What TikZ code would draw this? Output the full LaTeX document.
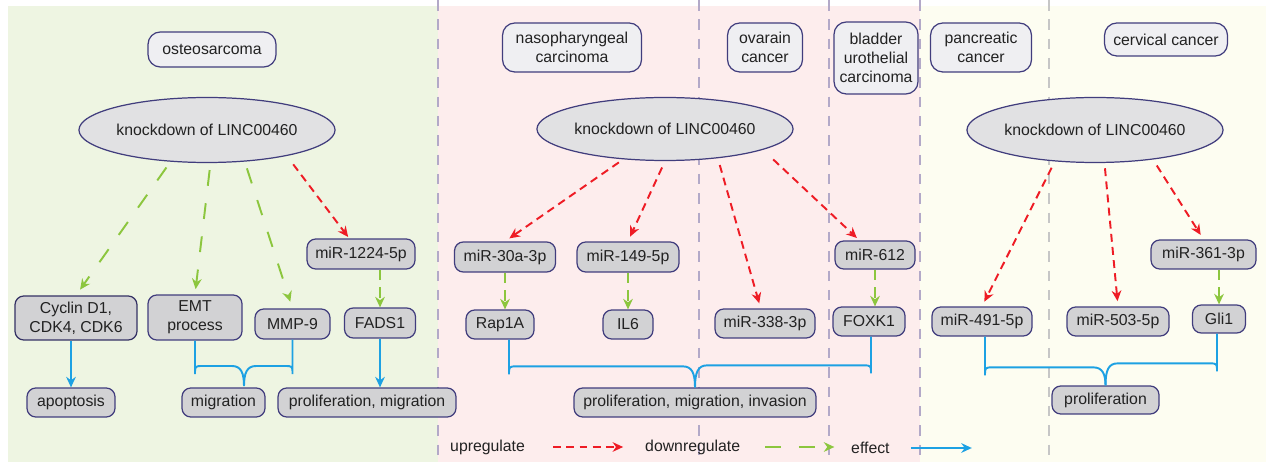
\documentclass[tikz,border=0pt]{standalone}
\usepackage{fontspec}
\setmainfont{Liberation Sans}
\usepackage{xcolor}
\usepackage{tikz}
\usetikzlibrary{shapes.geometric, arrows.meta, calc}

\definecolor{bggreen}{HTML}{EEF5E2}
\definecolor{bgpink}{HTML}{FDEDED}
\definecolor{bgyellow}{HTML}{FDFDF1}
\definecolor{navy}{HTML}{413D7D}
\definecolor{boxfill}{HTML}{EFEFF2}
\definecolor{genefill}{HTML}{D2D2D4}
\definecolor{ellfill}{HTML}{E1E1E3}
\definecolor{upred}{HTML}{EE1C25}
\definecolor{downgreen}{HTML}{8CC63E}
\definecolor{effblue}{HTML}{1DA1E3}
\definecolor{sepline}{HTML}{B3A9C8}
\definecolor{sepgray}{HTML}{C6C6C6}
\definecolor{txt}{HTML}{222222}

% one leg of a brace: #1 start, #2 tip, #3 rise of the bar, #4 side (1 left, -1 right)
\newcommand{\brleg}[4]{%
  \draw[effect] (#1) -- ($(#1 |- #2)+(0,-#3+8)$)
    .. controls ($(#1 |- #2)+(0,-#3)$) .. ($(#1 |- #2)+(8*#4,-#3)$)
    -- ($(#2)+(-12*#4,-#3)$)
    .. controls ($(#2)+(-3*#4,-#3)$) and ($(#2)+(0,-#3+7)$) .. (#2);}

\begin{document}
\begin{tikzpicture}[x=0.02cm, y=-0.02cm,
    every node/.style={font=\fontsize{9}{10.8}\selectfont, text=txt},
    disease/.style={draw=navy, line width=0.7pt, fill=boxfill, rounded corners=7pt, align=center, inner sep=0pt},
    knock/.style={ellipse, draw=navy, line width=0.7pt, fill=ellfill, inner sep=0pt},
    gene/.style={draw=navy, line width=0.7pt, fill=genefill, rounded corners=5pt, align=center, inner sep=0pt},
    upreg/.style={draw=upred, line width=1.1pt, dash pattern=on 4.5pt off 3pt, -{Stealth[length=6pt,width=5.5pt]}},
    downreg/.style={draw=downgreen, line width=1.1pt, dash pattern=on 9pt off 10pt, -{Stealth[length=6pt,width=5.5pt]}},
    shortdown/.style={downreg, dash pattern=on 6pt off 4pt},
    effect/.style={draw=effblue, line width=1.1pt},
    effarrow/.style={effect, -{Stealth[length=6pt,width=5.5pt]}},
    sep/.style={draw=sepline, line width=1.3pt, dash pattern=on 6pt off 5pt}]
    \useasboundingbox (0,0) rectangle (1266,462);
    % panels
    \fill[white] (0,0) rectangle (1266,462);
    \fill[bggreen] (8,6) rectangle (438,462);
    \fill[bgpink] (438,6) rectangle (920,462);
    \fill[bgyellow] (920,6) rectangle (1266,462);
    \draw[sep] (438,0) -- (438,462);
    \draw[sep] (699,0) -- (699,462);
    \draw[sep] (829,0) -- (829,462);
    \draw[sep] (920,0) -- (920,462);
    \draw[sep, draw=sepgray] (1049,0) -- (1049,462);

    % disease titles
    \node[disease, minimum width=2.56cm, minimum height=0.7cm] (osteo) at (212,49.5) {osteosarcoma};
    \node[disease, minimum width=2.78cm, minimum height=0.98cm] (naso) at (572,47.5) {nasopharyngeal\\carcinoma};
    \node[disease, minimum width=1.5cm, minimum height=0.98cm] (ovar) at (765,47.5) {ovarain\\cancer};
    \node[disease, minimum width=1.68cm, minimum height=1.44cm] (blad) at (876,58) {bladder\\urothelial\\carcinoma};
    \node[disease, minimum width=2.02cm, minimum height=0.98cm] (panc) at (981,47.5) {pancreatic\\cancer};
    \node[disease, minimum width=2.46cm, minimum height=0.66cm] (cerv) at (1166,39.5) {cervical cancer};

    % knockdown
    \node[knock, minimum width=4.78cm, minimum height=1.3cm] (k1) at (207,130) {knockdown of LINC00460};
    \node[knock, minimum width=4.74cm, minimum height=1.26cm] (k2) at (665,129) {knockdown of LINC00460};
    \node[knock, minimum width=4.84cm, minimum height=1.3cm] (k3) at (1095,130) {knockdown of LINC00460};

    % osteosarcoma
    \node[gene, minimum width=2.44cm, minimum height=0.88cm, draw=navy!80!black] (cyc) at (76,318) {Cyclin D1,\\CDK4, CDK6};
    \node[gene, minimum width=1.88cm, minimum height=0.9cm] (emt) at (195,317.5) {EMT\\process};
    \node[gene, minimum width=1.5cm, minimum height=0.6cm] (mmp) at (292.5,324) {MMP-9};
    \node[gene, minimum width=2.16cm, minimum height=0.6cm] (m1224) at (361,254) {miR-1224-5p};
    \node[gene, minimum width=1.42cm, minimum height=0.6cm] (fads) at (380,323) {FADS1};
    \node[gene, minimum width=1.76cm, minimum height=0.58cm] (apo) at (71,402.5) {apoptosis};
    \node[gene, minimum width=1.66cm, minimum height=0.58cm] (mig) at (223.5,402.5) {migration};
    \node[gene, minimum width=3.56cm, minimum height=0.58cm] (plm) at (367,402.5) {proliferation, migration};

    % nasopharyngeal, ovarian, bladder
    \node[gene, minimum width=2.02cm, minimum height=0.6cm] (m30a) at (505,257) {miR-30a-3p};
    \node[gene, minimum width=2.04cm, minimum height=0.6cm] (m149) at (628,257) {miR-149-5p};
    \node[gene, minimum width=1.36cm, minimum height=0.58cm] (rap) at (500,324.5) {Rap1A};
    \node[gene, minimum width=1.0cm, minimum height=0.58cm] (il6) at (628,324.5) {IL6};
    \node[gene, minimum width=2.0cm, minimum height=0.58cm] (m338) at (765,323.5) {miR-338-3p};
    \node[gene, minimum width=1.6cm, minimum height=0.56cm] (m612) at (875,255) {miR-612};
    \node[gene, minimum width=1.44cm, minimum height=0.58cm] (foxk) at (869,321.5) {FOXK1};
    \node[gene, minimum width=4.84cm, minimum height=0.58cm] (pmi) at (695,402.5) {proliferation, migration, invasion};

    % pancreatic, cervical
    \node[gene, minimum width=2.0cm, minimum height=0.58cm] (m491) at (982,321.5) {miR-491-5p};
    \node[gene, minimum width=2.04cm, minimum height=0.58cm] (m503) at (1118,321.5) {miR-503-5p};
    \node[gene, minimum width=2.1cm, minimum height=0.58cm] (m361) at (1203.5,254.5) {miR-361-3p};
    \node[gene, minimum width=1.06cm, minimum height=0.56cm] (gli) at (1219,319) {Gli1};
    \node[gene, minimum width=2.14cm, minimum height=0.56cm] (pro) at (1105.5,400) {proliferation};

    % regulation
    \draw[downreg, shorten <=4pt, shorten >=4pt] (k1.-139) -- (cyc.north);
    \draw[downreg, shorten <=4pt, shorten >=3pt] (k1.-84) -- (emt.north);
    \draw[downreg, shorten <=4pt, shorten >=4pt] (k1.-40) -- (mmp.north);
    \draw[upreg, shorten <=6pt, shorten >=1pt] (k1.-18) -- (m1224);
    \draw[shortdown] (m1224.south -| fads.north) -- (fads.north);
    \draw[upreg, shorten <=3pt, shorten >=3pt] (k2.-144) -- (m30a.north);
    \draw[upreg, shorten <=4pt, shorten >=3pt] (k2.-90) -- (m149.north);
    \draw[upreg, shorten <=4pt, shorten >=3pt] (k2.-29) -- (m338);
    \draw[upreg, shorten <=8pt, shorten >=2pt] (k2.-12) -- (m612);
    \draw[shortdown] (m30a.south) -- (m30a.south |- rap.north);
    \draw[shortdown] (m149.south) -- (il6.north);
    \draw[shortdown] (m612.south) -- (m612.south |- foxk.north);
    \draw[upreg, shorten <=4pt, shorten >=3pt] (k3.-142) -- (m491.north);
    \draw[upreg, shorten <=3pt, shorten >=3pt] (k3.-74) -- (m503.north);
    \draw[upreg, shorten <=4pt, shorten >=3pt] (k3.-27) -- (m361.north);
    \draw[shortdown] (m361.south -| gli.north) -- (gli.north);

    % effects
    \draw[effarrow] (cyc.south -| apo.north) -- (apo.north);
    \draw[effarrow] (fads.south) -- (fads.south |- plm.north);
    \coordinate (mtip) at (244,386);
    \coordinate (rapleg) at ($(rap.south)+(9,0)$);
    \coordinate (foxleg) at ($(foxk.south)+(2,0)$);
    \coordinate (m491leg) at ($(m491.south)+(3,0)$);
    \coordinate (glileg) at ($(gli.south)+(-2,0)$);
    \brleg{emt.south}{mtip}{20}{1}
    \brleg{mmp.south}{mtip}{20}{-1}
    \brleg{rapleg}{pmi.north}{21}{1}
    \brleg{foxleg}{pmi.north}{22}{-1}
    \brleg{m491leg}{pro.north}{18}{1}
    \brleg{glileg}{pro.north}{22}{-1}

    % legend
    \node[anchor=west] (lup) at (444,447) {upregulate};
    \node[anchor=west] (ldown) at (639,447) {downregulate};
    \node[anchor=west] (leff) at (845,448) {effect};
    \draw[upreg] ($(lup.east)+(22,0)$) -- ++(70,0);
    \draw[downreg] ($(ldown.east)+(19,0)$) -- ++(69,0);
    \draw[effarrow] ($(leff.east)+(15,0)$) -- ++(61,0);
\end{tikzpicture}
\end{document}
